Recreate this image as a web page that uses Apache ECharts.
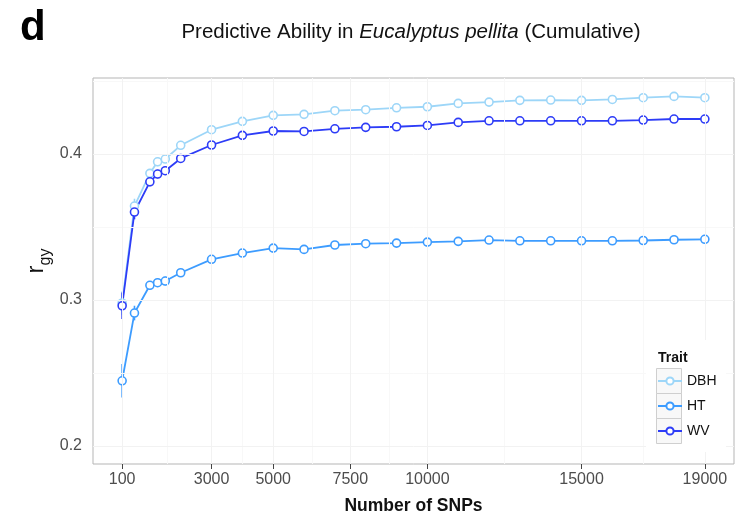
<!DOCTYPE html>
<html>
<head>
<meta charset="utf-8">
<script src="https://cdn.jsdelivr.net/npm/echarts@6/dist/echarts.min.js"></script>
<style>html,body{margin:0;padding:0;background:#fff}#c{width:737px;height:519px}</style>
</head>
<body>
<div id="c"></div>
<script>
const snps = [100,500,1000,1250,1500,2000,3000,4000,5000,6000,7000,8000,9000,10000,11000,12000,13000,14000,15000,16000,17000,18000,19000];
const dbh = [0.298,0.3644,0.3868,0.3947,0.3966,0.406,0.4167,0.4224,0.4265,0.4272,0.4297,0.4304,0.4317,0.4324,0.4347,0.4356,0.4368,0.437,0.4368,0.4374,0.4386,0.4395,0.4386];
const ht = [0.2447,0.2911,0.3101,0.3119,0.313,0.3187,0.3279,0.3322,0.3356,0.3347,0.3377,0.3386,0.339,0.3397,0.3402,0.3411,0.3406,0.3406,0.3406,0.3406,0.3408,0.3413,0.3416];
const wv = [0.2961,0.3603,0.381,0.3863,0.3886,0.397,0.4062,0.4128,0.4158,0.4155,0.4173,0.4183,0.4187,0.4196,0.4217,0.4228,0.4228,0.4228,0.4228,0.4228,0.4233,0.424,0.424];
const dbhErr = [0.008,0.005,0.003,0.003,0.002,0.003,0.002,0.002,0.001,0.001,0.001,0.001,0.001,0.001,0.001,0.001,0.001,0.001,0.001,0.001,0.001,0.001,0.001];
const htErr = [0.0115,0.005,0.003,0.003,0.003,0.002,0.002,0.001,0.001,0.001,0.001,0.001,0.001,0.001,0.001,0.001,0.001,0.001,0.001,0.001,0.001,0.001,0.001];
const wvErr = [0.009,0.005,0.003,0.003,0.003,0.003,0.002,0.001,0.001,0.001,0.001,0.001,0.001,0.001,0.001,0.001,0.001,0.001,0.001,0.001,0.001,0.001,0.001];
const xTicks = [100,3000,5000,7500,10000,15000,19000];
const xMinor = [1550,4000,6250,8750,12500,17000];
const yTicks = [0.2,0.3,0.4];
const yMinor = [0.25,0.35,0.45];
const traits = ['DBH','HT','WV'];
const colors = {DBH:'#9dd6f8', HT:'#3d9cff', WV:'#2d3cf7'};
const values = {DBH:dbh, HT:ht, WV:wv};
const errs = {DBH:dbhErr, HT:htErr, WV:wvErr};

const chart = echarts.init(document.getElementById('c'), null, {renderer:'canvas'});
const FONT = 'Liberation Sans, Arial, Helvetica, sans-serif';

const series = [];
series.push({
  type:'line', data:[], z:1, silent:true,
  markLine:{
    silent:true, symbol:'none', label:{show:false}, animation:false,
    data:[
      ...xMinor.map(v=>({xAxis:v, lineStyle:{color:'#f8f8f8', width:1, type:'solid'}})),
      ...yMinor.map(v=>({yAxis:v, lineStyle:{color:'#f8f8f8', width:1, type:'solid'}})),
      ...xTicks.map(v=>({xAxis:v, lineStyle:{color:'#f2f2f2', width:1, type:'solid'}})),
      ...yTicks.map(v=>({yAxis:v, lineStyle:{color:'#f2f2f2', width:1, type:'solid'}}))
    ]
  }
});
traits.forEach(t=>{
  series.push({
    type:'custom', z:2, silent:true, animation:false,
    data: snps.map((x,i)=>[x, values[t][i], errs[t][i]]),
    renderItem:(params, api)=>{
      const x = api.value(0), y = api.value(1), e = api.value(2);
      const p1 = api.coord([x, y-e]), p2 = api.coord([x, y+e]);
      return {type:'line', shape:{x1:p1[0],y1:p1[1],x2:p2[0],y2:p2[1]}, style:{stroke:colors[t], lineWidth:1.6}};
    }
  });
});
traits.forEach(t=>{
  series.push({
    name:t, type:'line', z:3, animation:false,
    data: snps.map((x,i)=>[x, values[t][i]]),
    symbol:'circle', symbolSize:8, showAllSymbol:true,
    lineStyle:{color:colors[t], width:1.8},
    itemStyle:{color:'#ffffff', borderColor:colors[t], borderWidth:1.6},
    emphasis:{disabled:true}
  });
});

chart.setOption({
  animation:false,
  backgroundColor:'#ffffff',
  title:[
    {text:'d', left:15, top:2, textStyle:{fontFamily:FONT, fontSize:42, fontWeight:'bold', color:'#000'}},
    {text:'{n|Predictive Ability in }{i|Eucalyptus pellita}{n| (Cumulative)}', left:406, top:17, textAlign:'center',
      textStyle:{fontWeight:'normal', rich:{n:{fontFamily:FONT, fontSize:20.5, fontWeight:'normal', color:'#111'}, i:{fontFamily:FONT, fontSize:20.5, fontWeight:'normal', fontStyle:'italic', color:'#111'}}}},
    {text:'Trait', left:653, top:346, z:60, textStyle:{fontFamily:FONT, fontSize:14, fontWeight:'bold', color:'#111'}}
  ],
  grid:{left:93, top:78, width:641, height:386, show:true, borderColor:'#b5b5b5', borderWidth:1, backgroundColor:'#fff', outerBoundsMode:'none', containLabel:false},
  xAxis:{
    type:'value', min:-845, max:19945,
    name:'Number of SNPs', nameLocation:'middle', nameGap:33, nameMoveOverlap:false,
    nameTextStyle:{fontFamily:FONT, fontSize:17.5, fontWeight:'bold', color:'#111'},
    axisLine:{show:false},
    axisTick:{show:true, length:5, customValues:xTicks, lineStyle:{color:'#444'}},
    axisLabel:{customValues:xTicks, margin:8, fontFamily:FONT, fontSize:16, color:'#4d4d4d', formatter:v=>String(v)},
    splitLine:{show:false}
  },
  yAxis:{
    type:'value', min:0.1877, max:0.4521,
    name:'{a|r}{b|gy}', nameLocation:'middle', nameGap:39, nameRotate:90, nameMoveOverlap:false,
    nameTextStyle:{padding:[0,0,0,20], rich:{a:{fontFamily:FONT, fontSize:24, color:'#111'}, b:{fontFamily:FONT, fontSize:16, color:'#111', padding:[20,0,0,0]}}},
    axisLine:{show:false},
    axisTick:{show:true, length:5, customValues:yTicks, lineStyle:{color:'#444'}},
    axisLabel:{customValues:yTicks, margin:11, fontFamily:FONT, fontSize:16, color:'#4d4d4d', formatter:v=>v.toFixed(1)},
    splitLine:{show:false}
  },
  legend:{
    data:traits, orient:'vertical', left:657, top:374, itemWidth:24, itemHeight:9, itemGap:11, padding:0, z:60,
    textStyle:{fontFamily:FONT, fontSize:14, color:'#111', padding:0},
    selectedMode:false
  },
  graphic:[
    {type:'rect', z:40, shape:{x:646, y:340, width:80, height:112}, style:{fill:'#fff'}, silent:true},
    {type:'rect', z:41, shape:{x:656.5, y:368.5, width:25, height:25}, style:{fill:'#f8f8f8', stroke:'#cfcfcf', lineWidth:1}, silent:true},
    {type:'rect', z:41, shape:{x:656.5, y:393.5, width:25, height:25}, style:{fill:'#f8f8f8', stroke:'#cfcfcf', lineWidth:1}, silent:true},
    {type:'rect', z:41, shape:{x:656.5, y:418.5, width:25, height:25}, style:{fill:'#f8f8f8', stroke:'#cfcfcf', lineWidth:1}, silent:true}
  ],
  series: series
});
</script>
</body>
</html>
